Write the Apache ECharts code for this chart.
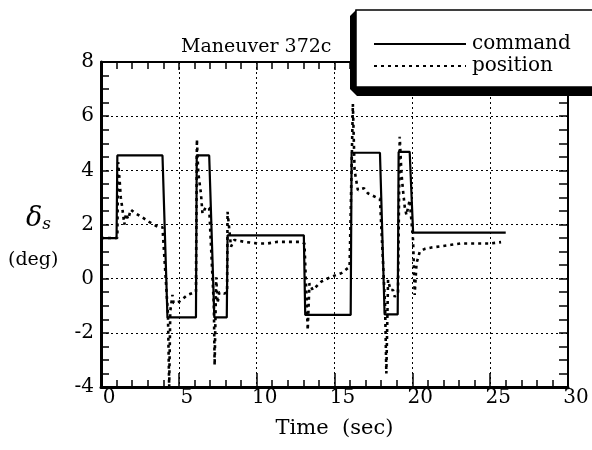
<!DOCTYPE html>
<html>
<head>
<meta charset="utf-8">
<script src="https://cdn.jsdelivr.net/npm/echarts@6/dist/echarts.min.js"></script>
<style>html,body{margin:0;padding:0;background:#fff}#c{width:592px;height:450px}</style>
</head>
<body>
<div id="c"></div>
<script>
var cmdTime = [0, 1.0, 1.05, 3.95, 4.27, 6.1, 6.15, 6.95, 7.28, 8.08, 8.13, 13.03, 13.12, 16.04, 16.1, 17.92, 18.22, 19.06, 19.12, 19.83, 20.05, 26.0];
var cmdValue = [1.5, 1.5, 4.55, 4.55, -1.43, -1.43, 4.55, 4.55, -1.43, -1.43, 1.6, 1.6, -1.34, -1.34, 4.65, 4.65, -1.32, -1.32, 4.68, 4.68, 1.7, 1.7];

var posTime = [0, 1.05, 1.1, 1.2, 1.27, 1.37, 1.5, 1.6, 1.75, 1.91, 2.12, 2.55, 3.09, 3.63, 3.95, 4.3, 4.38, 4.45, 4.59, 4.66, 5.02, 5.56, 6.1, 6.16, 6.25, 6.42, 6.52, 6.74, 6.95, 7.25, 7.3, 7.4, 7.49, 7.6, 7.92, 8.1, 8.13, 8.35, 8.56, 9.2, 10.06, 10.7, 11.35, 12.2, 12.86, 13.07, 13.28, 13.39, 13.6, 14.15, 14.79, 15.43, 15.97, 16.08, 16.18, 16.29, 16.5, 16.9, 17.15, 17.79, 17.92, 18.25, 18.33, 18.44, 18.6, 18.76, 18.87, 19.08, 19.19, 19.3, 19.4, 19.51, 19.62, 19.83, 20.05, 20.15, 20.27, 20.48, 20.8, 21.23, 21.9, 22.5, 23.1, 23.7, 24.3, 25.0, 25.7];
var posValue = [1.5, 1.5, 4.3, 3.6, 3.0, 2.6, 2.0, 2.4, 2.2, 2.55, 2.45, 2.3, 2.1, 1.92, 1.9, -1.3, -4.0, -1.2, -0.6, -0.9, -0.85, -0.6, -0.48, 5.15, 3.9, 3.15, 2.4, 2.65, 2.6, -1.0, -3.2, 0.05, -0.9, -0.5, -0.55, -0.5, 2.47, 1.18, 1.43, 1.36, 1.3, 1.3, 1.36, 1.36, 1.36, 1.3, -1.9, -0.17, -0.42, -0.11, 0.07, 0.2, 0.44, 0.5, 6.45, 4.0, 3.27, 3.34, 3.15, 2.97, 2.95, -1.0, -3.5, -0.05, -0.42, -0.42, -0.67, -0.5, 5.24, 3.89, 3.27, 2.66, 2.35, 2.9, 1.4, -0.6, 0.57, 1.0, 1.1, 1.15, 1.2, 1.25, 1.3, 1.3, 1.3, 1.3, 1.35];

var xTicks = [0, 5, 10, 15, 20, 25, 30];
var yTicks = [-4, -2, 0, 2, 4, 6, 8];

function zip(a, b) { return a.map(function (v, i) { return [v, b[i]]; }); }

var FONT = 'DejaVu Serif';
var chart = echarts.init(document.getElementById('c'), null, {renderer: 'canvas'});
var gridDash = {color: '#000', width: 1, type: [2, 3]};

chart.setOption({
  backgroundColor: '#fff',
  animation: false,
  title: {
    text: 'Maneuver 372c',
    left: 176, top: 33,
    textStyle: {fontFamily: FONT, fontWeight: 'normal', fontSize: 19, color: '#000'}
  },
  legend: {
    orient: 'vertical',
    left: 368, top: 29,
    itemWidth: 92, itemHeight: 12, itemGap: 2,
    itemStyle: {opacity: 0},
    textStyle: {fontFamily: FONT, fontSize: 20, color: '#000', padding: [0, 0, 0, 1], lineHeight: 20},
    data: ['command', 'position']
  },
  grid: {left: 101, right: 24, top: 62, bottom: 63},
  xAxis: [{
    type: 'value', min: xTicks[0], max: xTicks[xTicks.length - 1], interval: 5,
    position: 'bottom',
    name: 'Time  (sec)', nameLocation: 'middle', nameGap: 31,
    nameTextStyle: {fontFamily: FONT, fontSize: 21, color: '#000'},
    axisLine: {onZero: false, lineStyle: {color: '#000', width: 3}},
    axisTick: {inside: true, length: 14, lineStyle: {color: '#000', width: 1.5}},
    minorTick: {show: true, splitNumber: 5, length: 7, lineStyle: {color: '#000', width: 1.5}},
    axisLabel: {fontFamily: FONT, fontSize: 20, color: '#000', margin: 1, padding: [0, 0, 0, 16]},
    splitLine: {show: true, lineStyle: gridDash}
  }, {
    type: 'value', min: xTicks[0], max: xTicks[xTicks.length - 1], interval: 5,
    position: 'top',
    axisLine: {onZero: false, lineStyle: {color: '#000', width: 2}},
    axisTick: {inside: true, length: 8, lineStyle: {color: '#000', width: 1.5}},
    minorTick: {show: true, splitNumber: 5, length: 7, lineStyle: {color: '#000', width: 1.5}},
    axisLabel: {show: false},
    splitLine: {show: false}
  }],
  yAxis: [{
    type: 'value', min: yTicks[0], max: yTicks[yTicks.length - 1], interval: 2,
    position: 'left',
    axisLine: {onZero: false, lineStyle: {color: '#000', width: 3}},
    axisTick: {inside: true, length: 8, lineStyle: {color: '#000', width: 1.5}},
    minorTick: {show: true, splitNumber: 4, length: 8, lineStyle: {color: '#000', width: 1.5}},
    axisLabel: {fontFamily: FONT, fontSize: 20, color: '#000', margin: 7},
    splitLine: {show: true, lineStyle: gridDash}
  }, {
    type: 'value', min: yTicks[0], max: yTicks[yTicks.length - 1], interval: 2,
    position: 'right',
    axisLine: {onZero: false, lineStyle: {color: '#000', width: 2}},
    axisTick: {inside: true, length: 9, lineStyle: {color: '#000', width: 1.5}},
    minorTick: {show: true, splitNumber: 4, length: 9, lineStyle: {color: '#000', width: 1.5}},
    axisLabel: {show: false},
    splitLine: {show: false}
  }],
  graphic: [
    {type: 'polygon', z: 1, silent: true,
     shape: {points: [[356, 10], [350, 16], [350, 89], [357, 96], [600, 96], [600, 10]]},
     style: {fill: '#000'}},
    {type: 'rect', z: 2, silent: true,
     shape: {x: 356, y: 10, width: 250, height: 77},
     style: {fill: '#fff', stroke: '#000', lineWidth: 1.5}},
    {type: 'text', left: 26, top: 205, silent: true,
     style: {text: '{d|δ}{s|s}', rich: {
       d: {fontFamily: FONT, fontStyle: 'italic', fontSize: 27, fill: '#000', lineHeight: 30},
       s: {fontFamily: FONT, fontStyle: 'italic', fontSize: 17, fill: '#000', lineHeight: 30, verticalAlign: 'bottom', padding: [6, 0, 0, 0]}
     }}},
    {type: 'text', left: 8, top: 251, silent: true,
     style: {text: '(deg)', fontFamily: FONT, fontSize: 19, fill: '#000'}}
  ],
  series: [{
    name: 'command', type: 'line', xAxisIndex: 0, yAxisIndex: 0,
    data: zip(cmdTime, cmdValue), showSymbol: false, symbol: 'none',
    lineStyle: {color: '#000', width: 2.2}, itemStyle: {color: '#000'}, z: 4
  }, {
    name: 'position', type: 'line', xAxisIndex: 0, yAxisIndex: 0,
    data: zip(posTime, posValue), showSymbol: false, symbol: 'none',
    lineStyle: {color: '#000', width: 2.6, type: [3, 4]}, itemStyle: {color: '#000'}, z: 3
  }]
});
</script>
</body>
</html>
